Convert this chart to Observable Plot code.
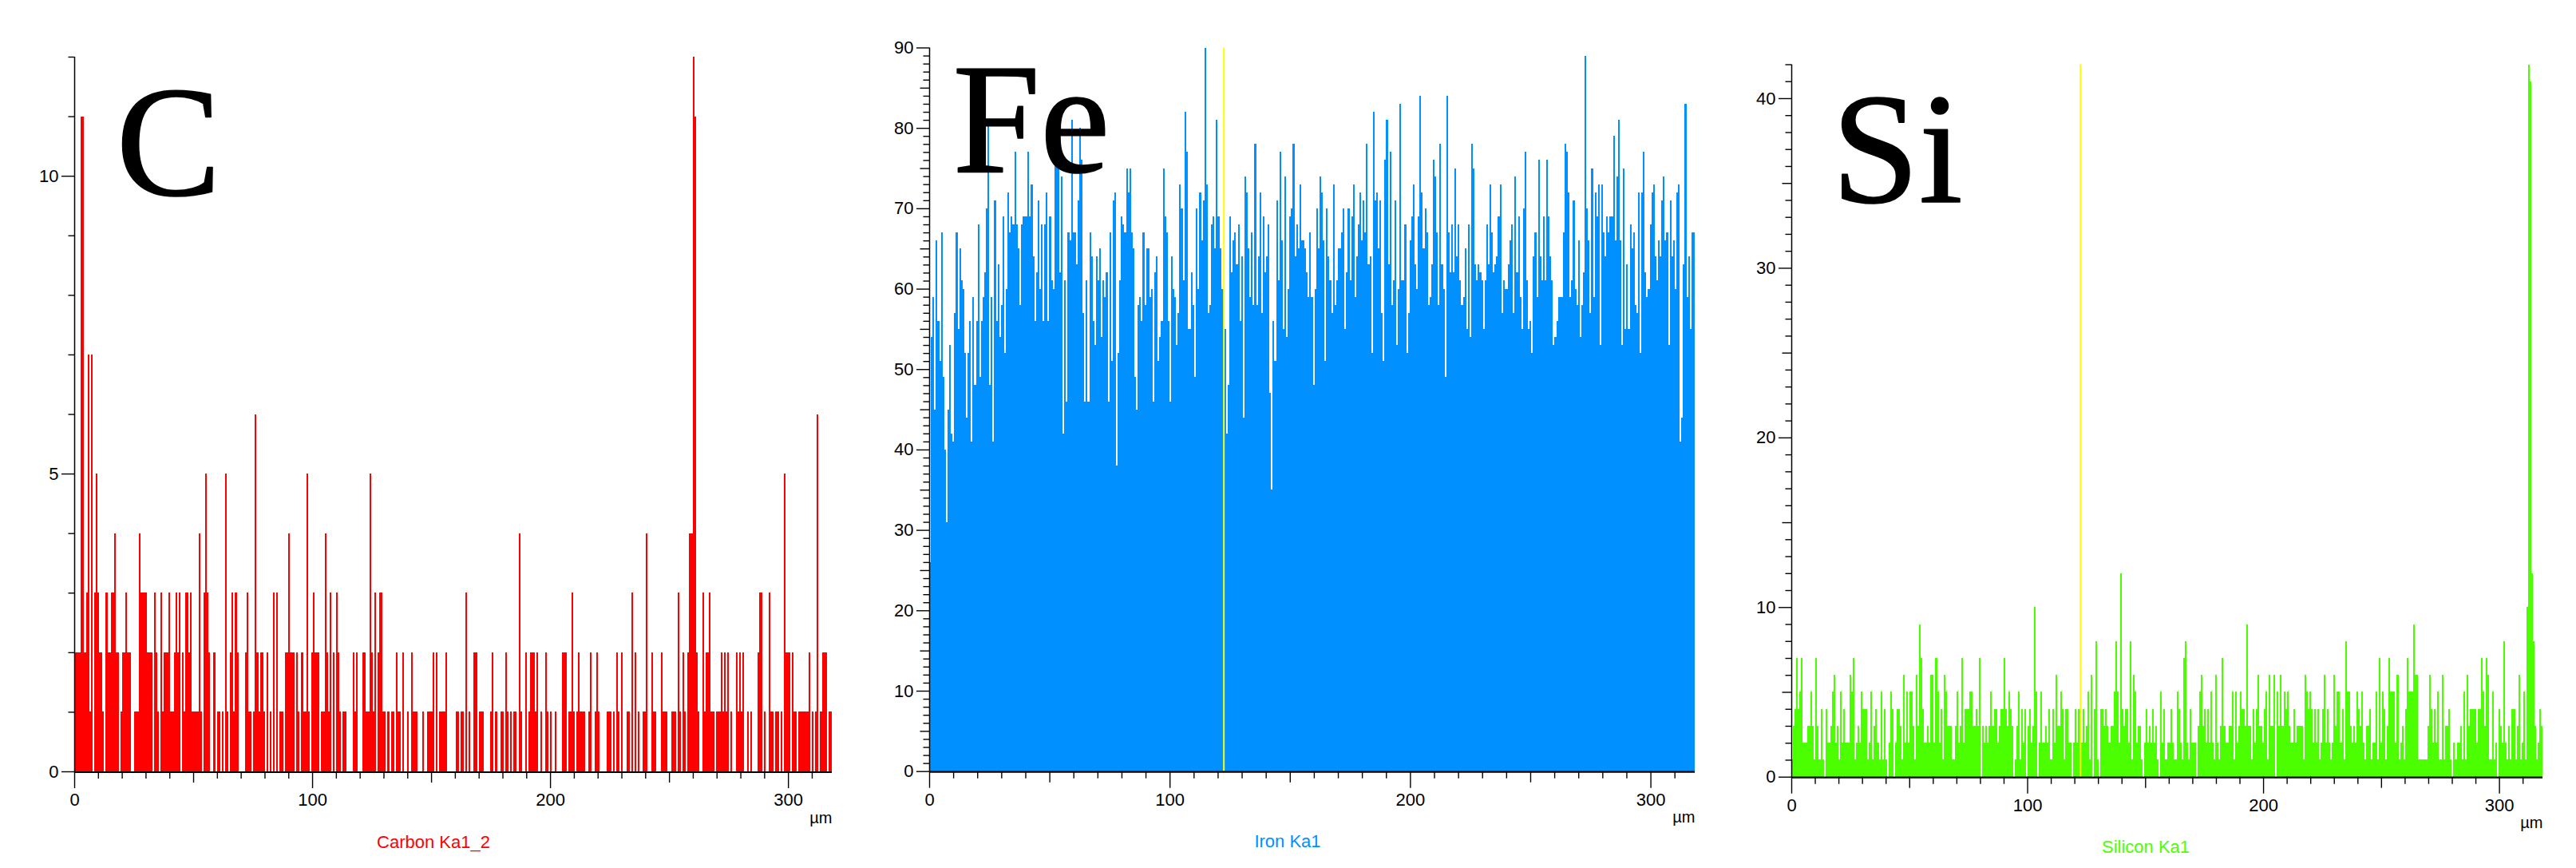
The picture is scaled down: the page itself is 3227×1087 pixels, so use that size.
<!DOCTYPE html>
<html><head><meta charset="utf-8">
<script src="https://cdn.jsdelivr.net/npm/d3@7"></script>
<script src="https://cdn.jsdelivr.net/npm/@observablehq/plot@0.6"></script>
<style>
html,body{margin:0;padding:0;background:#fff;}
#stage{position:relative;width:3227px;height:1087px;overflow:hidden;}
#stage svg{position:absolute;top:0;overflow:visible;background:transparent;}
</style></head><body><div id="stage"></div>
<script>
// Counts per scan position (estimates).
const carbon = [2,2,2,2,11,11,2,3,7,1,7,0,3,5,3,2,2,1,0,3,2,2,3,3,4,2,2,0,1,2,2,3,2,2,0,0,1,1,1,4,3,3,3,3,2,2,2,0,3,2,1,0,3,1,2,2,2,3,1,1,2,3,2,3,0,2,1,3,3,2,3,1,1,1,1,4,1,0,3,5,3,2,0,0,2,0,1,1,0,1,0,5,1,0,2,3,1,3,2,0,0,0,0,2,3,1,1,0,1,6,2,1,2,2,1,0,2,0,1,0,3,0,3,0,1,1,0,2,2,4,2,2,2,0,2,1,0,2,1,1,5,1,0,2,3,2,2,2,0,1,1,4,2,1,3,0,2,0,3,2,1,0,1,1,0,0,0,0,2,1,2,0,0,0,2,2,1,1,5,2,1,3,0,2,3,3,1,1,0,1,0,1,1,0,2,1,1,0,2,0,0,1,0,2,1,1,1,0,0,0,1,0,0,1,1,1,2,0,2,0,1,1,1,1,2,0,0,0,0,0,1,1,
0,1,1,0,3,0,1,0,0,2,2,0,1,1,1,0,0,0,0,1,2,0,1,0,0,1,1,0,2,1,0,1,0,1,1,0,4,1,0,0,2,0,1,2,2,2,1,2,0,1,0,0,2,1,0,1,0,0,1,0,0,0,2,2,2,0,1,1,3,1,0,1,2,1,1,1,0,0,1,2,0,0,1,2,1,0,0,0,0,1,1,1,0,1,0,2,1,0,2,0,0,1,1,0,3,0,2,0,1,0,0,1,1,4,0,0,2,1,1,0,0,0,2,1,1,1,0,0,1,1,1,0,3,1,0,2,1,0,2,4,4,12,11,2,1,0,0,3,1,2,2,3,1,1,0,1,1,1,2,1,2,1,2,0,1,0,0,2,1,2,1,2,0,0,1,0,1,0,0,0,2,3,3,0,1,0,0,3,1,1,0,1,1,0,1,0,5,2,2,2,0,2,1,1,0,1,1,1,1,1,1,2,0,1,0,1,6,0,1,2,2,2,0,1,1];
const iron = [26,54,59,45,66,56,51,67,49,40,31,45,53,42,41,57,67,55,65,61,60,52,44,52,56,41,59,48,56,68,49,56,59,62,70,81,48,59,41,71,56,63,54,58,69,52,60,72,67,69,68,77,68,65,58,68,69,69,69,77,69,73,64,56,62,71,60,68,56,68,72,56,69,61,60,76,76,76,62,74,42,61,46,67,66,81,67,67,63,71,80,76,57,46,61,46,67,64,56,53,64,61,65,54,61,59,62,46,67,51,71,72,38,52,61,69,68,67,75,72,75,67,65,49,45,58,59,56,67,58,65,65,59,60,46,62,64,51,54,56,75,69,67,56,46,64,60,59,53,57,73,70,61,82,77,55,55,62,58,49,70,60,72,66,71,90,73,57,58,68,69,65,81,69,65,60,60,55,42,48,69,62,66,67,63,68,56,64,44,74,72,65,59,67,58,78,58,64,72,57,69,62,64,68,47,35,56,51,71,61,77,66,55,74,54,60,69,70,78,64,68,65,73,66,66,65,62,59,67,59,48,
60,70,65,74,72,66,51,70,64,61,57,73,58,61,65,65,67,70,55,62,70,61,69,73,59,64,68,72,66,71,67,78,63,64,52,82,71,72,65,71,57,51,76,81,63,77,58,61,71,53,60,83,61,61,68,52,57,66,69,73,63,60,69,84,72,65,70,67,58,59,63,76,74,67,58,78,63,60,49,84,67,62,68,62,75,64,68,61,58,59,65,55,68,54,78,75,63,61,63,62,61,55,61,68,63,73,67,62,63,64,69,73,57,61,60,60,63,66,68,57,74,62,69,59,55,70,77,61,55,56,52,64,67,59,76,64,61,69,61,76,69,64,61,53,54,56,59,59,59,67,78,77,72,59,61,71,60,58,66,54,58,62,89,70,66,57,75,59,72,69,73,53,73,67,64,69,67,69,69,79,66,74,81,66,53,75,55,63,55,68,65,67,58,57,72,52,72,77,62,59,60,68,72,73,64,61,66,64,71,74,66,67,53,71,64,66,60,72,73,41,44,63,83,59,64,55,67,67];
const silicon = [1,3,4,7,4,5,7,2,2,2,3,3,5,3,1,7,3,1,4,1,0,4,2,2,3,5,6,2,3,1,5,2,4,2,2,2,6,5,7,1,2,3,2,5,4,4,4,1,2,5,1,3,4,2,1,5,1,4,1,0,2,5,4,0,2,4,4,3,1,6,2,5,2,5,5,3,1,6,3,9,7,4,2,2,3,2,6,6,2,7,5,2,4,1,6,5,3,3,3,1,1,3,5,2,3,7,2,4,4,4,5,5,3,3,4,3,7,0,3,2,3,2,3,5,3,4,4,2,3,4,4,7,4,3,5,4,3,0,1,3,5,1,4,2,4,0,3,4,2,3,10,5,0,2,5,2,2,3,2,4,1,4,2,6,3,3,5,4,1,4,4,2,2,0,2,4,2,4,4,2,4,2,3,5,1,6,0,4,8,1,0,4,4,3,4,3,2,3,3,5,8,5,2,12,4,3,4,4,2,8,1,6,5,2,3,3,1,0,2,4,2,3,2,4,2,3,1,0,5,2,4,1,2,2,4,2,1,
1,5,4,2,1,7,8,2,1,4,2,2,2,0,3,5,6,3,4,2,4,2,5,2,1,6,2,1,3,7,3,2,2,3,3,5,1,5,2,3,5,4,4,3,9,3,3,1,4,2,4,6,3,3,2,4,5,1,6,3,3,6,0,5,3,6,3,5,4,5,3,2,2,4,2,3,3,3,3,1,6,5,4,5,4,2,4,2,4,1,2,4,6,2,4,2,1,2,6,3,5,5,2,4,1,8,5,5,3,2,3,2,5,4,3,5,2,1,3,3,4,1,2,2,5,1,7,2,5,4,1,3,7,5,5,5,2,6,1,2,3,1,4,7,5,5,5,9,6,6,1,1,1,1,1,1,3,6,4,2,4,2,5,1,1,6,1,3,3,4,1,0,2,1,2,2,3,1,5,1,6,3,4,4,4,4,2,4,4,7,5,3,7,6,1,1,5,1,2,0,4,3,2,8,2,1,3,1,4,4,1,3,6,1,2,5,1,10,42,41,12,8,3,1,2,4,3];
const xTicksMajor = [0,100,200,300];
const xTicksMid = [50,150,250];
const xTicksMinor = [10,20,30,40,60,70,80,90,110,120,130,140,160,170,180,190,210,220,230,240,260,270,280,290,310];
const scanEnd = 318.4;
const cursor = 122.4;
const fontSans = "'Liberation Sans', Arial, sans-serif";

const panels = [
  {values:carbon, name:"C", title:"Carbon Ka1_2", color:"#ff0000", left:0, width:1100, x0:93, x1:1042, top:71, bottom:966, yMax:12,
   yLabelled:[0,5,10], yMid:[], yStep:1, cursor:false, tDx:52, tDy:172, titleDx:-25, titleDy:95, unitDy:64},
  {values:iron, name:"Fe", title:"Iron Ka1", color:"#0090ff", left:1100, width:1050, x0:1164, x1:2123, top:59.5, bottom:965.7, yMax:90,
   yLabelled:[0,10,20,30,40,50,60,70,80,90], yMid:[5,15,25,35,45,55,65,75,85], yStep:1, cursor:true, tDx:29, tDy:155, titleDx:-31, titleDy:95, unitDy:64},
  {values:silicon, name:"Si", title:"Silicon Ka1", color:"#4bff00", left:2150, width:1077, x0:2244, x1:3185, top:80.5, bottom:972.7, yMax:42,
   yLabelled:[0,10,20,30,40], yMid:[5,15,25,35], yStep:1, cursor:true, tDx:50, tDy:172, titleDx:-27, titleDy:95, unitDy:64}
];

const stage = document.getElementById("stage");
for (const p of panels) {
  const step = scanEnd / p.values.length;
  const rows = p.values.map((v,i)=>({x1:i*step, x2:(i+1)*step, v}));
  const minor = d3.range(0, p.yMax+1, p.yStep).filter(t=>!p.yLabelled.includes(t) && !p.yMid.includes(t));
  const axisBase = {tickPadding:4, fontSize:22, label:null};
  const marks = [
    Plot.rectY(rows,{x1:"x1",x2:"x2",y:"v",fill:p.color,inset:0,shapeRendering:"crispEdges"}),
    ...(p.cursor ? [Plot.ruleX([cursor],{y1:0,y2:p.yMax,stroke:"#ffff00",strokeWidth:2})] : []),
    Plot.ruleX([0],{y1:0,y2:p.yMax,stroke:"#000",strokeWidth:1.5}),
    Plot.ruleY([0],{x1:0,x2:scanEnd,stroke:"#000",strokeWidth:2.2,dy:0.5}),
    Plot.axisX({ticks:xTicksMinor,tickSize:9,tickFormat:()=>"",label:null,strokeWidth:1.4}),
    Plot.axisX({ticks:xTicksMid,tickSize:14,tickFormat:()=>"",label:null,strokeWidth:1.4}),
    Plot.axisX({ticks:xTicksMajor,tickSize:21,tickPadding:6,fontSize:22,label:null,tickFormat:d=>String(d),strokeWidth:1.4,fill:"#000"}),
    Plot.axisY({ticks:minor,tickSize:7.5,tickFormat:()=>"",label:null,strokeWidth:1.4}),
    ...(p.yMid.length ? [Plot.axisY({ticks:p.yMid,tickSize:11.5,tickFormat:()=>"",label:null,strokeWidth:1.4})] : []),
    Plot.axisY({ticks:p.yLabelled,tickSize:16,tickFormat:d=>String(d),strokeWidth:1.4,fill:"#000",...axisBase}),
    Plot.text(["\u00b5m"],{frameAnchor:"bottom-right",textAnchor:"end",dy:p.unitDy,fontSize:20,fill:"#000",fontFamily:fontSans}),
    Plot.text([p.title],{frameAnchor:"bottom",dx:p.titleDx,dy:p.titleDy,fontSize:22,fill:p.color,fontFamily:fontSans}),
    Plot.text([p.name],{frameAnchor:"top-left",textAnchor:"start",lineAnchor:"bottom",dx:p.tDx,dy:p.tDy,fontSize:197,fill:"#000",stroke:"#000",strokeWidth:1.6,fontFamily:"'Liberation Serif','Times New Roman',serif"})
  ];
  const svg = Plot.plot({
    width:p.width, height:1087,
    marginLeft:p.x0-p.left, marginRight:p.left+p.width-p.x1,
    marginTop:p.top, marginBottom:1087-p.bottom,
    x:{domain:[0,scanEnd]}, y:{domain:[0,p.yMax]},
    style:{background:"transparent",fontFamily:fontSans,overflow:"visible"},
    marks
  });
  svg.style.left = p.left+"px";
  stage.appendChild(svg);
}
</script></body></html>
